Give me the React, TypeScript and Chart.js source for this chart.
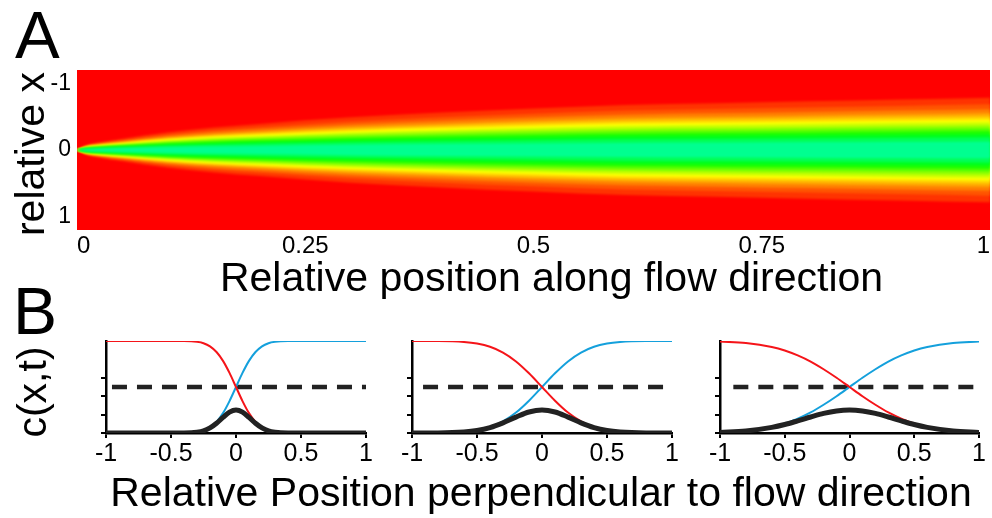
import React, { useEffect, useRef } from "react";
import { Chart, registerables } from "chart.js";

Chart.register(...registerables);

const FONT = "'Liberation Sans', Arial, Helvetica, sans-serif";
Chart.defaults.font.family = FONT;
Chart.defaults.color = "#000";

// ---------- Panel A data (heat map of mixing along the channel) ----------
const flowPositions = [0, 0.01, 0.025, 0.05, 0.1, 0.15, 0.2, 0.3, 0.4, 0.5, 0.6, 0.7, 0.8, 0.9, 1.0];
// half-width (relative x) of the yellow contour
const yellowHalfWidth = [0, 0.04, 0.065, 0.095, 0.15, 0.19, 0.22, 0.275, 0.315, 0.35, 0.38, 0.395, 0.41, 0.425, 0.44];
// width of each colour level relative to the yellow contour (outermost first)
const bandWidthRatio = [1.78, 1.556, 1.392, 1.251, 1.144, 1.043, 0.958, 0.853, 0.747, 0.644, 0.538, 0.422, 0.28];
const bandColors = [
  "hsl(12,100%,50%)",
  "hsl(20,100%,50%)",
  "hsl(30,100%,50%)",
  "hsl(40,100%,50%)",
  "hsl(50,100%,50%)",
  "hsl(60,100%,50%)",
  "hsl(71,100%,50%)",
  "hsl(85,100%,50%)",
  "hsl(99,100%,50%)",
  "hsl(113,100%,50%)",
  "hsl(127,100%,50%)",
  "hsl(141,100%,50%)",
  "hsl(154,100%,50%)",
];
const heatBackground = "#ff0000";
const flowTicks = [0, 0.25, 0.5, 0.75, 1];
const relativeXTicks = [-1, 0, 1];

// ---------- Panel B data (concentration profiles) ----------
const perpTicks = [-1, -0.5, 0, 0.5, 1];
const concTicks = [0, 0.2, 0.4, 0.6];
const threshold = 0.5;

const perpX1 = [-1, -0.6, -0.4, -0.3, -0.25, -0.2, -0.15, -0.1, -0.05, 0, 0.05, 0.1, 0.15, 0.2, 0.25, 0.3, 0.4, 0.6, 1];
const blue1 = [0, 0, 0.001, 0.009, 0.024, 0.058, 0.12, 0.216, 0.347, 0.5, 0.653, 0.784, 0.88, 0.942, 0.976, 0.991, 0.999, 1, 1];
const red1 = [1, 1, 0.999, 0.991, 0.976, 0.942, 0.88, 0.784, 0.653, 0.5, 0.347, 0.216, 0.12, 0.058, 0.024, 0.009, 0.001, 0, 0];
const black1 = [0, 0, 0.001, 0.009, 0.023, 0.055, 0.106, 0.169, 0.227, 0.25, 0.227, 0.169, 0.106, 0.055, 0.023, 0.009, 0.001, 0, 0];
const dash1 = [-0.954, 1];

const perpX23 = [-1, -0.8, -0.6, -0.5, -0.4, -0.3, -0.2, -0.1, 0, 0.1, 0.2, 0.3, 0.4, 0.5, 0.6, 0.8, 1];
const blue2 = [0, 0.001, 0.011, 0.028, 0.063, 0.126, 0.222, 0.351, 0.5, 0.649, 0.778, 0.874, 0.937, 0.972, 0.989, 0.999, 1];
const red2 = [1, 0.999, 0.989, 0.972, 0.937, 0.874, 0.778, 0.649, 0.5, 0.351, 0.222, 0.126, 0.063, 0.028, 0.011, 0.001, 0];
const black2 = [0, 0.001, 0.011, 0.027, 0.059, 0.11, 0.173, 0.228, 0.25, 0.228, 0.173, 0.11, 0.059, 0.027, 0.011, 0.001, 0];
const dash2 = [-0.915, 0.945];

const blue3 = [0.006, 0.022, 0.065, 0.103, 0.157, 0.224, 0.307, 0.4, 0.5, 0.6, 0.693, 0.776, 0.843, 0.897, 0.935, 0.978, 0.994];
const red3 = [0.994, 0.978, 0.935, 0.897, 0.843, 0.776, 0.693, 0.6, 0.5, 0.4, 0.307, 0.224, 0.157, 0.103, 0.065, 0.022, 0.006];
const black3 = [0.006, 0.022, 0.061, 0.092, 0.132, 0.174, 0.213, 0.24, 0.25, 0.24, 0.213, 0.174, 0.132, 0.092, 0.061, 0.022, 0.006];
const dash3 = [-0.897, 0.967];

const RED = "rgb(245,20,25)";
const BLUE = "rgb(20,160,220)";
const DARK = "#222";

function pairs(xs: number[], ys: number[]) {
  return xs.map((x, i) => ({ x, y: ys[i] }));
}

const redBackgroundPlugin = {
  id: "redBackground",
  beforeDatasetsDraw(chart: any) {
    const { ctx, chartArea: a } = chart;
    ctx.save();
    ctx.fillStyle = heatBackground;
    ctx.fillRect(a.left, a.top, a.right - a.left, a.bottom - a.top);
    ctx.restore();
    // soften the steps between colour levels
    ctx.save();
    ctx.filter = "blur(1.3px)";
  },
  afterDatasetsDraw(chart: any) {
    chart.ctx.restore();
  },
};

function HeatMap() {
  const ref = useRef<HTMLCanvasElement>(null);
  useEffect(() => {
    const datasets: any[] = [];
    // innermost level first so that it is drawn last (on top)
    for (let k = bandWidthRatio.length - 1; k >= 0; k--) {
      const upper = flowPositions.map((x, i) => ({ x, y: -bandWidthRatio[k] * yellowHalfWidth[i] }));
      const lower = flowPositions.map((x, i) => ({ x, y: bandWidthRatio[k] * yellowHalfWidth[i] }));
      const common = {
        borderWidth: 0,
        borderColor: "rgba(0,0,0,0)",
        pointRadius: 0,
        cubicInterpolationMode: "monotone",
      };
      datasets.push({ ...common, data: upper, fill: false });
      datasets.push({ ...common, data: lower, fill: "-1", backgroundColor: bandColors[k] });
    }
    const chart = new Chart(ref.current!, {
      type: "line",
      data: { datasets },
      plugins: [redBackgroundPlugin],
      options: {
        animation: false,
        responsive: false,
        events: [],
        layout: { padding: { top: 70, right: 2, left: 0, bottom: 0 } },
        plugins: { legend: { display: false }, tooltip: { enabled: false } },
        scales: {
          x: {
            type: "linear",
            min: 0,
            max: 1,
            afterBuildTicks: (s: any) => {
              s.ticks = flowTicks.map((v) => ({ value: v }));
            },
            afterFit: (s: any) => {
              s.height = 32;
            },
            ticks: {
              align: "inner",
              autoSkip: false,
              maxRotation: 0,
              padding: 2,
              color: "#000",
              font: { size: 24 },
              callback: (v: any) => String(v),
            },
            grid: { display: false, drawTicks: false },
            border: { display: false },
          },
          y: {
            type: "linear",
            min: -1.2,
            max: 1.2,
            reverse: true,
            afterBuildTicks: (s: any) => {
              s.ticks = relativeXTicks.map((v) => ({ value: v }));
            },
            afterFit: (s: any) => {
              s.width = 77;
            },
            ticks: { padding: 6, color: "#000", font: { size: 23 }, callback: (v: any) => String(v) },
            grid: { display: false, drawTicks: false },
            border: { display: false },
          },
        },
      } as any,
    });
    return () => chart.destroy();
  }, []);
  return <canvas ref={ref} width={992} height={262} style={{ position: "absolute", left: 0, top: 0 }} />;
}

function Profile(props: {
  left: number;
  xs: number[];
  red: number[];
  blue: number[];
  black: number[];
  dash: number[];
  plotWidth: number;
}) {
  const ref = useRef<HTMLCanvasElement>(null);
  useEffect(() => {
    const line = { pointRadius: 0, fill: false, cubicInterpolationMode: "monotone" };
    const axisGrid = {
      display: true,
      drawOnChartArea: false,
      drawTicks: true,
      tickLength: 5,
      color: "#000",
      lineWidth: 2,
    };
    const chart = new Chart(ref.current!, {
      type: "line",
      data: {
        datasets: [
          { ...line, data: pairs(props.xs, props.black), borderColor: DARK, borderWidth: 5 },
          { ...line, data: pairs(props.xs, props.red), borderColor: RED, borderWidth: 2 },
          { ...line, data: pairs(props.xs, props.blue), borderColor: BLUE, borderWidth: 2 },
          {
            ...line,
            data: props.dash.map((x) => ({ x, y: threshold })),
            borderColor: DARK,
            borderWidth: 4.5,
            borderDash: [15, 10],
          },
        ],
      },
      options: {
        animation: false,
        responsive: false,
        events: [],
        layout: { padding: { top: 21, right: 20, left: 0, bottom: 0 } },
        plugins: { legend: { display: false }, tooltip: { enabled: false } },
        scales: {
          x: {
            type: "linear",
            min: -1,
            max: 1,
            afterBuildTicks: (s: any) => {
              s.ticks = perpTicks.map((v) => ({ value: v }));
            },
            afterFit: (s: any) => {
              s.height = 37;
            },
            ticks: {
              autoSkip: false,
              maxRotation: 0,
              padding: 1,
              color: "#000",
              font: { size: 25 },
              callback: (v: any) => String(v),
            },
            grid: axisGrid,
            border: { display: true, color: "#000", width: 2.5 },
          },
          y: {
            type: "linear",
            min: 0,
            max: 1,
            afterBuildTicks: (s: any) => {
              s.ticks = concTicks.map((v) => ({ value: v }));
            },
            afterFit: (s: any) => {
              s.width = 40;
            },
            ticks: { display: false },
            grid: axisGrid,
            border: { display: true, color: "#000", width: 2.5 },
          },
        },
      } as any,
    });
    return () => chart.destroy();
  }, []);
  return (
    <canvas
      ref={ref}
      width={props.plotWidth + 60}
      height={150}
      style={{ position: "absolute", left: props.left - 40, top: 320 }}
    />
  );
}

const textBase: React.CSSProperties = {
  position: "absolute",
  fontFamily: FONT,
  color: "#000",
  whiteSpace: "nowrap",
  lineHeight: 1,
  margin: 0,
};

export default function App() {
  return (
    <div style={{ position: "absolute", left: 0, top: 0, width: 992, height: 518, background: "#fff", overflow: "hidden" }}>
      <HeatMap />
      <Profile left={106} plotWidth={260} xs={perpX1} red={red1} blue={blue1} black={black1} dash={dash1} />
      <Profile left={412} plotWidth={260} xs={perpX23} red={red2} blue={blue2} black={black2} dash={dash2} />
      <Profile left={720} plotWidth={259} xs={perpX23} red={red3} blue={blue3} black={black3} dash={dash3} />

      <div style={{ ...textBase, fontSize: 67, left: 15, top: 1 }}>A</div>
      <div
        style={{
          ...textBase,
          fontSize: 41,
          left: 30,
          top: 153.5,
          transform: "translate(-50%,-50%) rotate(-90deg)",
        }}
      >
        relative x
      </div>
      <div style={{ ...textBase, fontSize: 41, left: 551.5, top: 257.3, transform: "translateX(-50%)" }}>
        Relative position along flow direction
      </div>

      <div style={{ ...textBase, fontSize: 66, left: 13, top: 278 }}>B</div>
      <div
        style={{
          ...textBase,
          fontSize: 41,
          left: 32,
          top: 391.7,
          transform: "translate(-50%,-50%) rotate(-90deg)",
        }}
      >
        c(x,t)
      </div>
      <div style={{ ...textBase, fontSize: 41, left: 541, top: 472.3, transform: "translateX(-50%)" }}>
        Relative Position perpendicular to flow direction
      </div>
    </div>
  );
}
